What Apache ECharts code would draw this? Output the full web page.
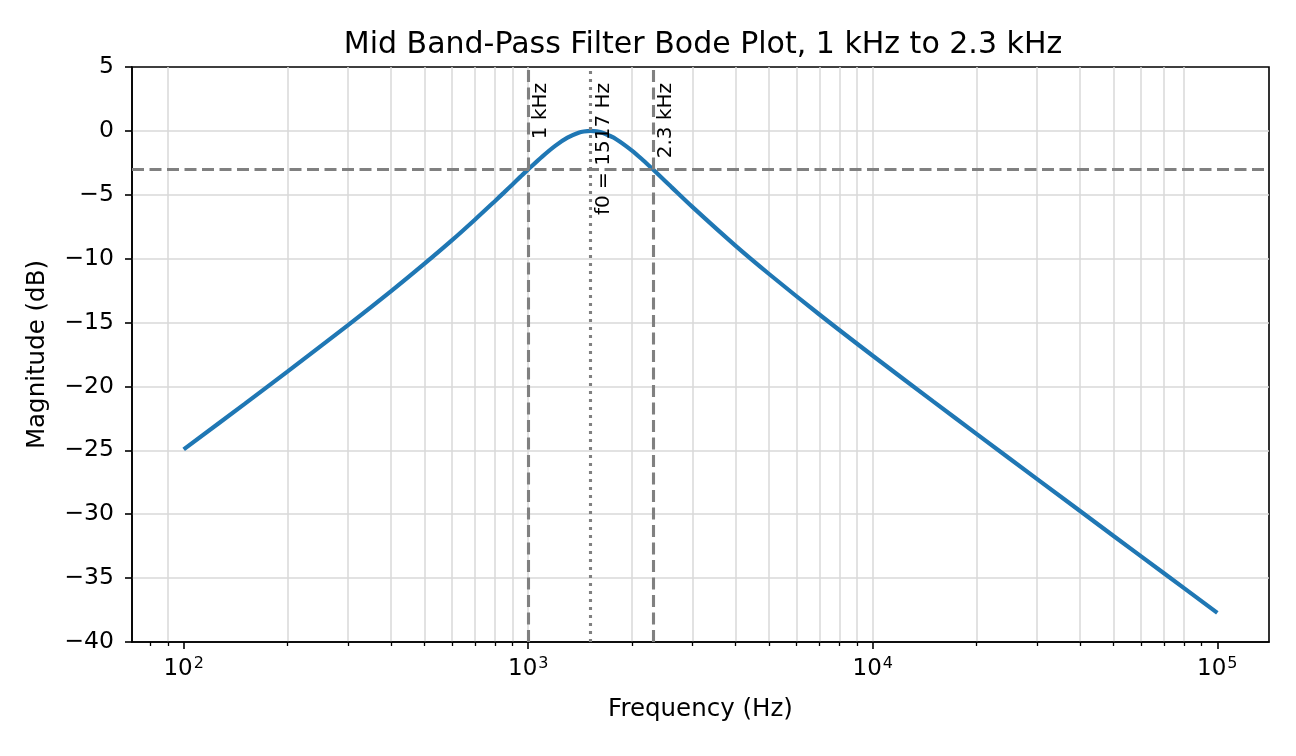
<!DOCTYPE html>
<html><head><meta charset="utf-8">
<script src="https://cdn.jsdelivr.net/npm/echarts@6/dist/echarts.min.js"></script>
<style>html,body{margin:0;padding:0;background:#fff}#c{width:1296px;height:756px}</style>
</head><body><div id="c"></div>
<script>
// ---- data ----
const freqHz = [100, 150, 200, 300, 400, 500, 600, 700, 800, 850, 900, 950, 1000, 1100, 1200, 1300, 1400, 1450, 1517, 1580, 1650, 1800, 2000, 2150, 2300, 2500, 2600, 3000, 4000, 5000, 7000, 10000, 15000, 20000, 30000, 50000, 70000, 100000];
const magDb  = [-24.93, -21.38, -18.84, -15.20, -12.54, -10.39, -8.57, -6.95, -5.50, -4.83, -4.19, -3.58, -3.01, -1.99, -1.15, -0.53, -0.15, -0.05, 0.0, -0.04, -0.17, -0.65, -1.54, -2.28, -3.01, -3.94, -4.38, -5.97, -9.00, -11.20, -14.37, -17.60, -21.19, -23.71, -27.25, -31.70, -34.62, -37.72];
const xMajorTicks = [100, 1000, 10000, 100000];
const xMinorTicks = [80, 90, 200, 300, 400, 500, 600, 700, 800, 900, 2000, 3000, 4000, 5000, 6000, 7000, 8000, 9000, 20000, 30000, 40000, 50000, 60000, 70000, 80000, 90000];
const xRange = [70.79, 141254];
const yRange = [-40, 5];
const yStep = 5;
const cutoffHz = [1000, 2300];
const centerHz = 1517;
const cutoffDb = -3;
const cutoffLabels = ['1 kHz', '2.3 kHz'];
const centerLabel = 'f0 = 1517 Hz';
const titleText = 'Mid Band-Pass Filter Bode Plot, 1 kHz to 2.3 kHz';
const xName = 'Frequency (Hz)';
const yName = 'Magnitude (dB)';

const FONT = 'DejaVu Sans';
const GRID = '#d9d9d9';
const REF = '#808080';

const vLabel = (txt) => ({
  show: true, formatter: txt, position: 'insideEndBottom', distance: [16, 3],
  color: '#000', fontFamily: FONT, fontSize: 20
});

const markData = [
  ...cutoffHz.map((f, i) => ({ xAxis: f, lineStyle: { type: [12, 5.5] }, label: vLabel(cutoffLabels[i]) })),
  { xAxis: centerHz, lineStyle: { type: [3, 5] }, label: vLabel(centerLabel) },
  { yAxis: cutoffDb, lineStyle: { type: [12, 5.5] }, label: { show: false } }
];

const chart = echarts.init(document.getElementById('c'), null, { renderer: 'canvas' });
chart.setOption({
  animation: false,
  backgroundColor: '#fff',
  title: {
    text: titleText, left: 698, top: 25, textAlign: 'center',
    textStyle: { fontFamily: FONT, fontSize: 30, fontWeight: 'normal', color: '#000' }
  },
  grid: { left: 132, right: 27, top: 67, bottom: 114, show: true, borderColor: '#000', borderWidth: 1.6, backgroundColor: 'transparent', containLabel: false },
  xAxis: [
    {
      type: 'log', logBase: 10, min: xRange[0], max: xRange[1],
      name: xName, nameLocation: 'middle', nameGap: 55,
      nameTextStyle: { fontFamily: FONT, fontSize: 24.5, color: '#000' },
      axisLine: { show: true, onZero: false, lineStyle: { color: '#000', width: 1.6 } },
      axisTick: { show: true, customValues: xMajorTicks, length: 7, lineStyle: { color: '#000', width: 1.6 } },
      axisLabel: {
        show: true, customValues: xMajorTicks, margin: 14,
        formatter: (v) => '{b|10}{s|' + Math.round(Math.log10(v)) + '}',
        rich: {
          b: { fontFamily: FONT, fontSize: 23, color: '#000', lineHeight: 26 },
          s: { fontFamily: FONT, fontSize: 16, color: '#000', verticalAlign: 'top', lineHeight: 26, padding: [0, 0, 8, 1] }
        }
      },
      splitLine: { show: true, showMinLine: false, showMaxLine: false, lineStyle: { color: GRID, width: 1.5 } },
      minorTick: { show: false }
    },
    {
      type: 'log', logBase: 10, min: xRange[0], max: xRange[1], position: 'bottom',
      axisLine: { show: false, onZero: false },
      axisTick: { show: true, customValues: xMinorTicks, length: 4, lineStyle: { color: '#000', width: 1.3 } },
      axisLabel: { show: false },
      splitLine: { show: true, showMinLine: false, showMaxLine: false, lineStyle: { color: GRID, width: 1.5 } }
    }
  ],
  yAxis: {
    type: 'value', min: yRange[0], max: yRange[1], interval: yStep,
    name: yName, nameLocation: 'middle', nameGap: 82,
    nameTextStyle: { fontFamily: FONT, fontSize: 24.5, color: '#000' },
    axisLine: { show: true, lineStyle: { color: '#000', width: 1.6 } },
    axisTick: { show: true, length: 7, lineStyle: { color: '#000', width: 1.6 } },
    axisLabel: {
      margin: 18, fontFamily: FONT, fontSize: 23.5, color: '#000',
      formatter: (v) => String(v).replace('-', '\u2212')
    },
    splitLine: { show: true, showMinLine: false, showMaxLine: false, lineStyle: { color: GRID, width: 1.5 } }
  },
  series: [{
    type: 'line', xAxisIndex: 0,
    data: freqHz.map((f, i) => [f, magDb[i]]),
    showSymbol: false, smooth: 0.3,
    lineStyle: { color: '#1f77b4', width: 4.2 },
    itemStyle: { color: '#1f77b4' },
    markLine: {
      silent: true, symbol: ['none', 'none'],
      lineStyle: { color: REF, width: 3.1 },
      label: { show: false },
      emphasis: { disabled: true },
      data: markData
    }
  }]
});
</script></body></html>
